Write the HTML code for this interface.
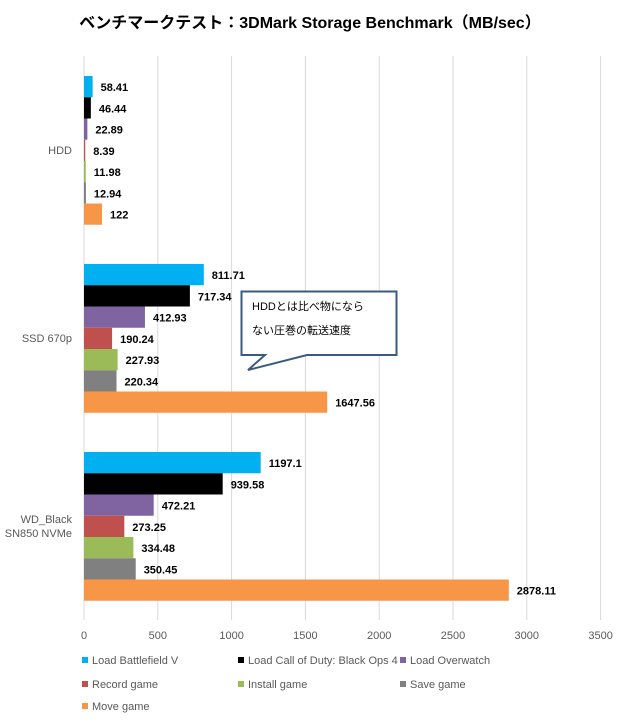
<!DOCTYPE html>
<html><head><meta charset="utf-8"><style>
body{margin:0;background:#fff;}
svg text{font-family:"Liberation Sans","Noto Sans CJK JP",sans-serif;}
.v{font-size:11px;font-weight:bold;fill:#000;}
</style></head><body>
<svg width="620" height="720" xmlns="http://www.w3.org/2000/svg">
<rect width="620" height="720" fill="#fff"/>
<text x="310" y="28" text-anchor="middle" font-size="16" font-weight="bold" fill="#000">ベンチマークテスト：3DMark Storage Benchmark（MB/sec）</text>
<g stroke="#d9d9d9" stroke-width="1">
<line x1="84" y1="56" x2="84" y2="620"/><line x1="157.8" y1="56" x2="157.8" y2="620"/><line x1="231.6" y1="56" x2="231.6" y2="620"/><line x1="305.4" y1="56" x2="305.4" y2="620"/><line x1="379.2" y1="56" x2="379.2" y2="620"/><line x1="453" y1="56" x2="453" y2="620"/><line x1="526.8" y1="56" x2="526.8" y2="620"/><line x1="600.6" y1="56" x2="600.6" y2="620"/>
</g>
<g font-size="11" fill="#595959" text-anchor="middle">
<text x="84" y="639">0</text><text x="157.8" y="639">500</text><text x="231.6" y="639">1000</text><text x="305.4" y="639">1500</text><text x="379.2" y="639">2000</text><text x="453" y="639">2500</text><text x="526.8" y="639">3000</text><text x="600.6" y="639">3500</text>
</g>
<g font-size="11" fill="#595959" text-anchor="end">
<text x="72" y="154">HDD</text><text x="72" y="342">SSD 670p</text><text x="72" y="523">WD_Black</text><text x="72" y="537">SN850 NVMe</text>
</g>
<!-- HDD -->
<rect x="84" y="76" width="8.62" height="21.25" fill="#00b0f0"/><text class="v" x="100.6" y="91">58.41</text>
<rect x="84" y="97.25" width="6.85" height="21.25" fill="#000"/><text class="v" x="98.9" y="112.25">46.44</text>
<rect x="84" y="118.5" width="3.38" height="21.25" fill="#8064a2"/><text class="v" x="95.4" y="133.5">22.89</text>
<rect x="84" y="139.75" width="1.24" height="21.25" fill="#c0504d"/><text class="v" x="93.2" y="154.75">8.39</text>
<rect x="84" y="161" width="1.77" height="21.25" fill="#9bbb59"/><text class="v" x="93.8" y="176">11.98</text>
<rect x="84" y="182.25" width="1.91" height="21.25" fill="#808080"/><text class="v" x="93.9" y="197.25">12.94</text>
<rect x="84" y="203.5" width="18.01" height="21.25" fill="#f79646"/><text class="v" x="110" y="218.5">122</text>
<!-- SSD -->
<rect x="84" y="264" width="119.81" height="21.25" fill="#00b0f0"/><text class="v" x="211.8" y="279">811.71</text>
<rect x="84" y="285.25" width="105.88" height="21.25" fill="#000"/><text class="v" x="197.9" y="300.25">717.34</text>
<rect x="84" y="306.5" width="60.95" height="21.25" fill="#8064a2"/><text class="v" x="153" y="321.5">412.93</text>
<rect x="84" y="327.75" width="28.08" height="21.25" fill="#c0504d"/><text class="v" x="120.1" y="342.75">190.24</text>
<rect x="84" y="349" width="33.64" height="21.25" fill="#9bbb59"/><text class="v" x="125.6" y="364">227.93</text>
<rect x="84" y="370.25" width="32.52" height="21.25" fill="#808080"/><text class="v" x="124.5" y="385.25">220.34</text>
<rect x="84" y="391.5" width="243.18" height="21.25" fill="#f79646"/><text class="v" x="335.2" y="406.5">1647.56</text>
<!-- WD -->
<rect x="84" y="452" width="176.69" height="21.25" fill="#00b0f0"/><text class="v" x="268.7" y="467">1197.1</text>
<rect x="84" y="473.25" width="138.68" height="21.25" fill="#000"/><text class="v" x="230.7" y="488.25">939.58</text>
<rect x="84" y="494.5" width="69.70" height="21.25" fill="#8064a2"/><text class="v" x="161.7" y="509.5">472.21</text>
<rect x="84" y="515.75" width="40.33" height="21.25" fill="#c0504d"/><text class="v" x="132.3" y="530.75">273.25</text>
<rect x="84" y="537" width="49.37" height="21.25" fill="#9bbb59"/><text class="v" x="141.4" y="552">334.48</text>
<rect x="84" y="558.25" width="51.73" height="21.25" fill="#808080"/><text class="v" x="143.7" y="573.25">350.45</text>
<rect x="84" y="579.5" width="424.81" height="21.25" fill="#f79646"/><text class="v" x="516.8" y="594.5">2878.11</text>

<path d="M241.5,291.5 H396.5 V355 H307 L248,370 L265,355 H241.5 Z" fill="#fff" stroke="#3b5a80" stroke-width="2"/>
<text x="252" y="310" font-size="11" fill="#000">HDDとは比べ物になら</text>
<text x="252" y="334" font-size="11" fill="#000">ない圧巻の転送速度</text>
<g font-size="11" fill="#595959">
<rect x="82" y="657" width="6" height="6" fill="#00b0f0"/><text x="92" y="664">Load Battlefield V</text>
<rect x="238" y="657" width="6" height="6" fill="#000"/><text x="248" y="664">Load Call of Duty: Black Ops 4</text>
<rect x="400" y="657" width="6" height="6" fill="#8064a2"/><text x="410" y="664">Load Overwatch</text>
<rect x="82" y="681" width="6" height="6" fill="#c0504d"/><text x="92" y="688">Record game</text>
<rect x="238" y="681" width="6" height="6" fill="#9bbb59"/><text x="248" y="688">Install game</text>
<rect x="400" y="681" width="6" height="6" fill="#808080"/><text x="410" y="688">Save game</text>
<rect x="82" y="703" width="6" height="6" fill="#f79646"/><text x="92" y="710">Move game</text>
</g>
</svg>
</body></html>
